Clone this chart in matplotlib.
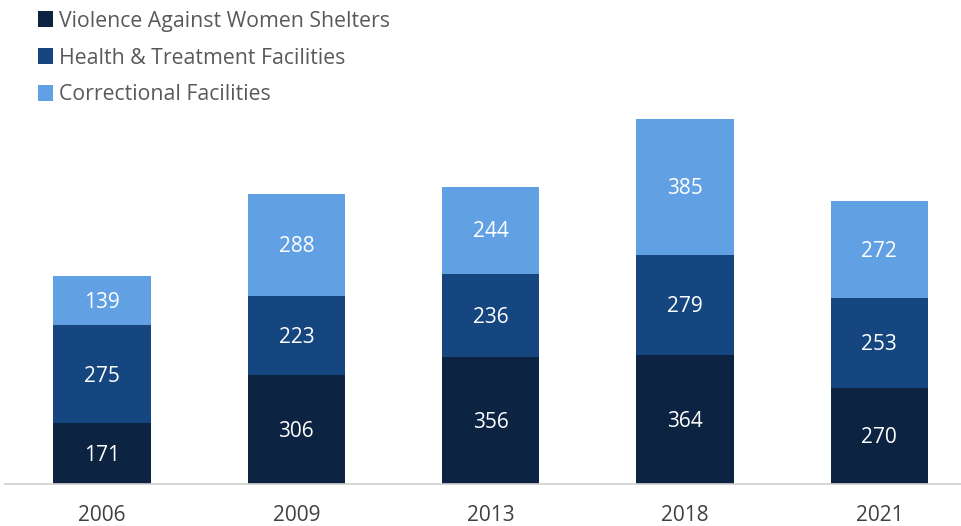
import numpy as np
import matplotlib
matplotlib.use('Agg')
import matplotlib.pyplot as plt

plt.rcParams['font.family'] = ['Open Sans', 'DejaVu Sans']

years = ['2006', '2009', '2013', '2018', '2021']
series_names = ['Violence Against Women Shelters', 'Health & Treatment Facilities', 'Correctional Facilities']
violence = [171, 306, 356, 364, 270]
health = [275, 223, 236, 279, 253]
correctional = [139, 288, 244, 385, 272]

colors = ['#0C2341', '#15467F', '#62A0E4']

fig = plt.figure(figsize=(9.61, 5.26), dpi=100)
ax = fig.add_axes([0.005, 0.0798, 0.995, 0.7435])

x = np.arange(len(years))
width = 0.5
bottom = np.zeros(len(years))
handles = []
for name, vals, c in zip(series_names, [violence, health, correctional], colors):
    bars = ax.bar(x, vals, width, bottom=bottom, color=c, label=name, edgecolor='none')
    handles.append(bars)
    for xi, b, v in zip(x, bottom, vals):
        ax.text(xi, b + v / 2 - 5, str(v), ha='center', va='center', color='white', fontsize=15)
    bottom += np.array(vals)

ax.set_xlim(-0.5, 4.42)
ax.set_ylim(0, 1100)
ax.set_yticks([])
ax.set_xticks(x)
ax.set_xticklabels(years, fontsize=15, color='#404040')
ax.tick_params(axis='x', length=0, pad=15)
for s in ['top', 'right', 'left']:
    ax.spines[s].set_visible(False)
ax.spines['bottom'].set_color('#D0D0D0')
ax.spines['bottom'].set_linewidth(1.2)

fig.legend(handles, series_names, loc='upper left', bbox_to_anchor=(0.028, 1.0),
           frameon=False, fontsize=15.3, labelcolor='#595959', handlelength=0.75,
           handleheight=0.75, handletextpad=0.25, labelspacing=0.75, borderaxespad=0.1)

fig.savefig('out.png', dpi=100)
